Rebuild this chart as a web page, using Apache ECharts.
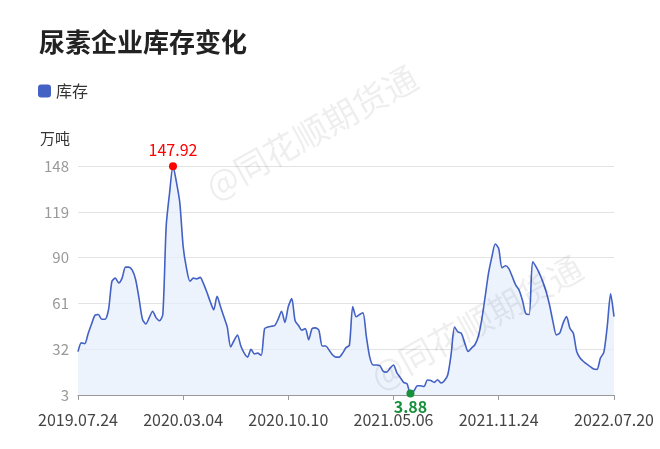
<!DOCTYPE html>
<html>
<head>
<meta charset="utf-8">
<script src="https://cdn.jsdelivr.net/npm/echarts@6/dist/echarts.min.js"></script>
<style>html,body{margin:0;padding:0;background:#fff;}#c{width:660px;height:449px;}</style>
</head>
<body>
<div id="c"></div>
<script>
const title = '尿素企业库存变化';
const seriesName = '库存';
const unitName = '万吨';
const watermark = '@同花顺期货通';

const dates = [
'2019.07.24','2019.07.31','2019.08.07','2019.08.14','2019.08.21','2019.08.28','2019.09.04','2019.09.11','2019.09.18','2019.09.25',
'2019.10.02','2019.10.09','2019.10.16','2019.10.23','2019.10.30','2019.11.06','2019.11.13','2019.11.20','2019.11.27','2019.12.04',
'2019.12.11','2019.12.18','2019.12.25','2020.01.01','2020.01.08','2020.01.15','2020.01.22','2020.02.05','2020.02.12','2020.02.19',
'2020.02.26','2020.03.04','2020.03.11','2020.03.18','2020.03.25','2020.04.01','2020.04.08','2020.04.15','2020.04.22','2020.04.29',
'2020.05.06','2020.05.13','2020.05.20','2020.05.27','2020.06.03','2020.06.10','2020.06.17','2020.06.24','2020.07.01','2020.07.08',
'2020.07.15','2020.07.22','2020.07.29','2020.08.05','2020.08.12','2020.08.19','2020.08.26','2020.09.02','2020.09.09','2020.09.16',
'2020.09.23','2020.09.30','2020.10.10','2020.10.14','2020.10.21','2020.10.28','2020.11.04','2020.11.11','2020.11.18','2020.11.25',
'2020.12.02','2020.12.09','2020.12.16','2020.12.23','2020.12.30','2021.01.06','2021.01.13','2021.01.20','2021.01.27','2021.02.03',
'2021.02.10','2021.02.17','2021.02.20','2021.02.24','2021.03.03','2021.03.10','2021.03.17','2021.03.24','2021.03.31','2021.04.07',
'2021.04.14','2021.04.21','2021.04.28','2021.05.06','2021.05.12','2021.05.19','2021.05.26','2021.06.02','2021.06.09','2021.06.16',
'2021.06.23','2021.06.30','2021.07.07','2021.07.14','2021.07.21','2021.07.28','2021.08.04','2021.08.11','2021.08.18','2021.08.25',
'2021.09.01','2021.09.08','2021.09.15','2021.09.18','2021.09.22','2021.09.29','2021.10.09','2021.10.13','2021.10.20','2021.10.27',
'2021.11.03','2021.11.10','2021.11.13','2021.11.17','2021.11.24','2021.12.01','2021.12.08','2021.12.15','2021.12.22','2021.12.29',
'2022.01.05','2022.01.12','2022.01.19','2022.01.26','2022.02.02','2022.02.09','2022.02.16','2022.02.23','2022.03.02','2022.03.09',
'2022.03.16','2022.03.23','2022.03.30','2022.04.06','2022.04.13','2022.04.20','2022.04.27','2022.05.04','2022.05.11','2022.05.18',
'2022.05.25','2022.06.01','2022.06.08','2022.06.15','2022.06.22','2022.06.29','2022.07.06','2022.07.13','2022.07.20'
];

const stock = [
30.5, 36, 35.5, 42, 48, 53.5, 54, 51, 51, 57,
75, 77, 74, 77, 84, 84, 82, 76, 64, 51,
48, 52, 56, 52, 50, 54, 110, 131, 147.92, 138,
125, 97, 83, 75, 77, 76.5, 77.5, 73.5, 68, 62,
57, 65.5, 59, 52.5, 46, 33.5, 37.5, 41, 34, 29.5,
27, 32, 29, 29.5, 28, 45, 46, 46.5, 47, 51,
56, 49, 59, 64, 50, 47, 44, 45, 38, 45,
45.5, 44, 34, 34, 31.5, 28.5, 27, 27, 29.5, 33,
34.5, 59, 52.5, 54, 55, 40, 27, 22, 22, 21.5,
18, 17.5, 20, 22, 17, 14, 11, 10, 3.88, 5.5,
8.8, 8.9, 8.4, 12.5, 12.2, 11, 12.7, 10.6, 12, 15.8,
29, 46, 43, 42, 36, 30.5, 32.7, 34.8, 40, 50.6,
65, 80, 90.5, 98.6, 95.8, 83.5, 84.8, 83, 78, 72.7,
69.5, 63, 54.5, 54, 87.4, 84.3, 80, 74.8, 68.4, 60,
49.5, 41.1, 42.2, 48.5, 52.6, 45.3, 42.2, 30.5, 26.4, 24.2,
22.5, 21, 19.4, 19.2, 26.4, 30, 46.3, 67, 52.6
];

const yMin = 3, yMax = 148, yStep = 29;
const labelEvery = 31;

const FONT = '"Noto Sans CJK SC", "Noto Sans", sans-serif';
const N = dates.length;
const showIdx = function (i) { return (i % labelEvery === 0 && i < N - 10) || i === N - 1; };

const chart = echarts.init(document.getElementById('c'), null, {renderer: 'canvas'});
chart.setOption({
  animation: false,
  textStyle: {fontFamily: FONT},
  title: {
    text: title, left: 34, top: 24,
    textStyle: {fontSize: 26, fontWeight: 'bold', color: '#222', fontFamily: FONT}
  },
  legend: {
    data: [seriesName], left: 33, top: 78,
    icon: 'roundRect', itemWidth: 13, itemHeight: 13, itemGap: 6,
    textStyle: {fontSize: 16, color: '#333', fontFamily: FONT}
  },
  grid: {left: 78, right: 46, top: 166, bottom: 54, containLabel: false},
  xAxis: {
    type: 'category', data: dates, boundaryGap: false,
    axisLine: {lineStyle: {color: '#999'}},
    axisTick: {show: true, interval: showIdx, length: 5, lineStyle: {color: '#999'}},
    axisLabel: {interval: showIdx, color: '#444', fontSize: 16, margin: 17, fontFamily: FONT, showMaxLabel: true},
    splitLine: {show: false}
  },
  yAxis: {
    type: 'value', min: yMin, max: yMax, interval: yStep,
    name: unitName, nameLocation: 'end', nameGap: 20,
    nameTextStyle: {color: '#333', fontSize: 15, align: 'right', padding: [0, 8, 0, 0], fontFamily: FONT},
    axisLine: {show: false}, axisTick: {show: false},
    axisLabel: {color: '#999', fontSize: 15, margin: 9, fontFamily: FONT},
    splitLine: {lineStyle: {color: '#e3e3e3'}}
  },
  graphic: [
    {type: 'text', left: 200, top: 60, rotation: Math.PI / 6.2, z: 100, silent: true,
     style: {text: watermark, fontSize: 34, fill: 'rgba(0,0,0,0.065)', fontFamily: FONT}},
    {type: 'text', left: 365, top: 250, rotation: Math.PI / 6.2, z: 100, silent: true,
     style: {text: watermark, fontSize: 34, fill: 'rgba(0,0,0,0.065)', fontFamily: FONT}}
  ],
  series: [{
    name: seriesName, type: 'line', data: stock,
    smooth: 0.25, symbol: 'none',
    lineStyle: {color: '#4461c4', width: 1.6},
    itemStyle: {color: '#4461c4'},
    areaStyle: {color: '#e4eefc'},
    markPoint: {
      symbol: 'circle', symbolSize: 8,
      data: [
        {type: 'max', itemStyle: {color: '#f00'},
         label: {show: true, position: 'top', distance: 4, color: '#f00', fontSize: 16, fontFamily: FONT,
                 formatter: function (p) { return p.value; }}},
        {type: 'min', itemStyle: {color: '#16903c'},
         label: {show: true, position: 'bottom', distance: 1, color: '#16903c', fontSize: 16, fontWeight: 'bold', fontFamily: FONT,
                 formatter: function (p) { return p.value; }}}
      ]
    }
  }]
});
</script>
</body>
</html>
